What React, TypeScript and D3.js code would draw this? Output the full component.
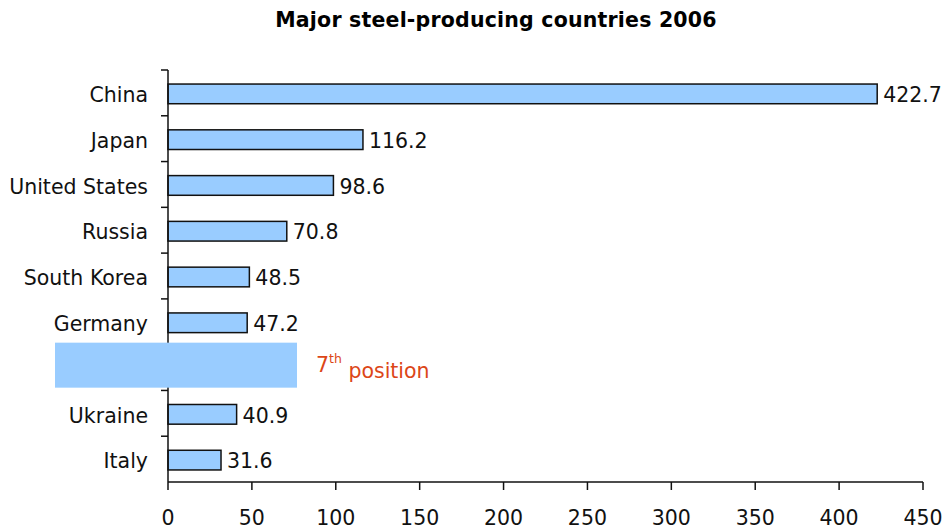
import React, { useRef, useEffect } from 'react';
import * as d3 from 'd3';

// 2006 crude steel output, million tonnes (7th position is masked in the original)
const countries = ['China', 'Japan', 'United States', 'Russia', 'South Korea', 'Germany', '7th', 'Ukraine', 'Italy'];
const production: (number | null)[] = [422.7, 116.2, 98.6, 70.8, 48.5, 47.2, null, 40.9, 31.6];
const xTicks = [0, 50, 100, 150, 200, 250, 300, 350, 400, 450];

const WIDTH = 946;
const HEIGHT = 531;
const FONT = '"DejaVu Sans", Tahoma, Verdana, sans-serif';
const FS = '20.5px';

const App: React.FC = () => {
  const svgRef = useRef<SVGSVGElement | null>(null);

  useEffect(() => {
    if (!svgRef.current) return;
    const svg = d3.select(svgRef.current);
    svg.selectAll('*').remove();

    const left = 168, right = 923, top = 70, bottom = 482;

    const x = d3.scaleLinear().domain([0, 450]).range([left, right]);
    const y = d3.scaleBand<string>()
      .domain(countries)
      .range([top, bottom])
      .paddingInner(0.57)
      .paddingOuter(0.285);

    const step = y.step();
    const gap = (step - y.bandwidth()) / 2;

    // Title
    svg.append('text')
      .attr('x', 496)
      .attr('y', 27)
      .attr('text-anchor', 'middle')
      .attr('font-family', FONT)
      .attr('font-weight', 'bold')
      .attr('font-size', '20.5px')
      .attr('letter-spacing', '0.2px')
      .attr('fill', '#000')
      .text('Major steel-producing countries 2006');

    // Bars
    const rows = countries.map((c, i) => ({ c, v: production[i] })).filter(d => d.v != null) as { c: string; v: number }[];

    svg.append('g')
      .selectAll('rect')
      .data(rows)
      .enter()
      .append('rect')
      .attr('x', x(0))
      .attr('y', d => (y(d.c) || 0) + 1)
      .attr('width', d => x(d.v) - x(0))
      .attr('height', y.bandwidth())
      .attr('fill', '#99ccff')
      .attr('stroke', '#111')
      .attr('stroke-width', 1.5);

    // Value labels
    svg.append('g')
      .selectAll('text')
      .data(rows)
      .enter()
      .append('text')
      .attr('x', d => x(d.v) + 6)
      .attr('y', d => (y(d.c) || 0) + y.bandwidth() / 2 + 1)
      .attr('dy', '0.4em')
      .attr('font-family', FONT)
      .attr('font-size', FS)
      .attr('fill', '#111')
      .text(d => d.v.toFixed(1));

    // Category labels
    svg.append('g')
      .selectAll('text')
      .data(rows)
      .enter()
      .append('text')
      .attr('x', left - 20)
      .attr('y', d => (y(d.c) || 0) + y.bandwidth() / 2 + 1)
      .attr('dy', '0.4em')
      .attr('text-anchor', 'end')
      .attr('font-family', FONT)
      .attr('font-size', FS)
      .attr('fill', '#111')
      .text(d => d.c);

    // Y axis line + ticks at band boundaries
    svg.append('line')
      .attr('x1', left).attr('x2', left)
      .attr('y1', top).attr('y2', bottom)
      .attr('stroke', '#111').attr('stroke-width', 1.5);

    const boundaries = countries.map(c => (y(c) || 0) - gap);
    svg.append('g')
      .selectAll('line')
      .data(boundaries)
      .enter()
      .append('line')
      .attr('x1', left - 7).attr('x2', left)
      .attr('y1', d => d).attr('y2', d => d)
      .attr('stroke', '#111').attr('stroke-width', 1.5);

    // X axis
    svg.append('line')
      .attr('x1', left).attr('x2', right)
      .attr('y1', bottom).attr('y2', bottom)
      .attr('stroke', '#111').attr('stroke-width', 1.5);

    const xt = svg.append('g')
      .selectAll('g')
      .data(xTicks)
      .enter()
      .append('g');

    xt.append('line')
      .attr('x1', d => x(d)).attr('x2', d => x(d))
      .attr('y1', bottom).attr('y2', bottom + 8)
      .attr('stroke', '#111').attr('stroke-width', 1.5);

    xt.append('text')
      .attr('x', d => x(d))
      .attr('y', bottom + 43)
      .attr('text-anchor', 'middle')
      .attr('font-family', FONT)
      .attr('font-size', FS)
      .attr('fill', '#111')
      .text(d => String(d));

    // Mask over the 7th position
    const hidden = boundaries[6];
    svg.append('rect')
      .attr('x', 55)
      .attr('y', hidden - 2)
      .attr('width', 242)
      .attr('height', 45)
      .attr('fill', '#99ccff');

    const note = svg.append('text')
      .attr('x', 316)
      .attr('y', hidden + 20)
      .attr('dy', '0.38em')
      .attr('font-family', FONT)
      .attr('font-size', FS)
      .attr('fill', '#dc4617');
    note.append('tspan').text('7');
    note.append('tspan').attr('font-size', '12.5px').attr('dy', '-0.75em').text('th');
    note.append('tspan').attr('dy', '0.72em').text(' position');
  }, []);

  return (
    <svg
      ref={svgRef}
      width={WIDTH}
      height={HEIGHT}
      style={{ position: 'absolute', left: 0, top: 0, background: '#fff' }}
    />
  );
};

export default App;
